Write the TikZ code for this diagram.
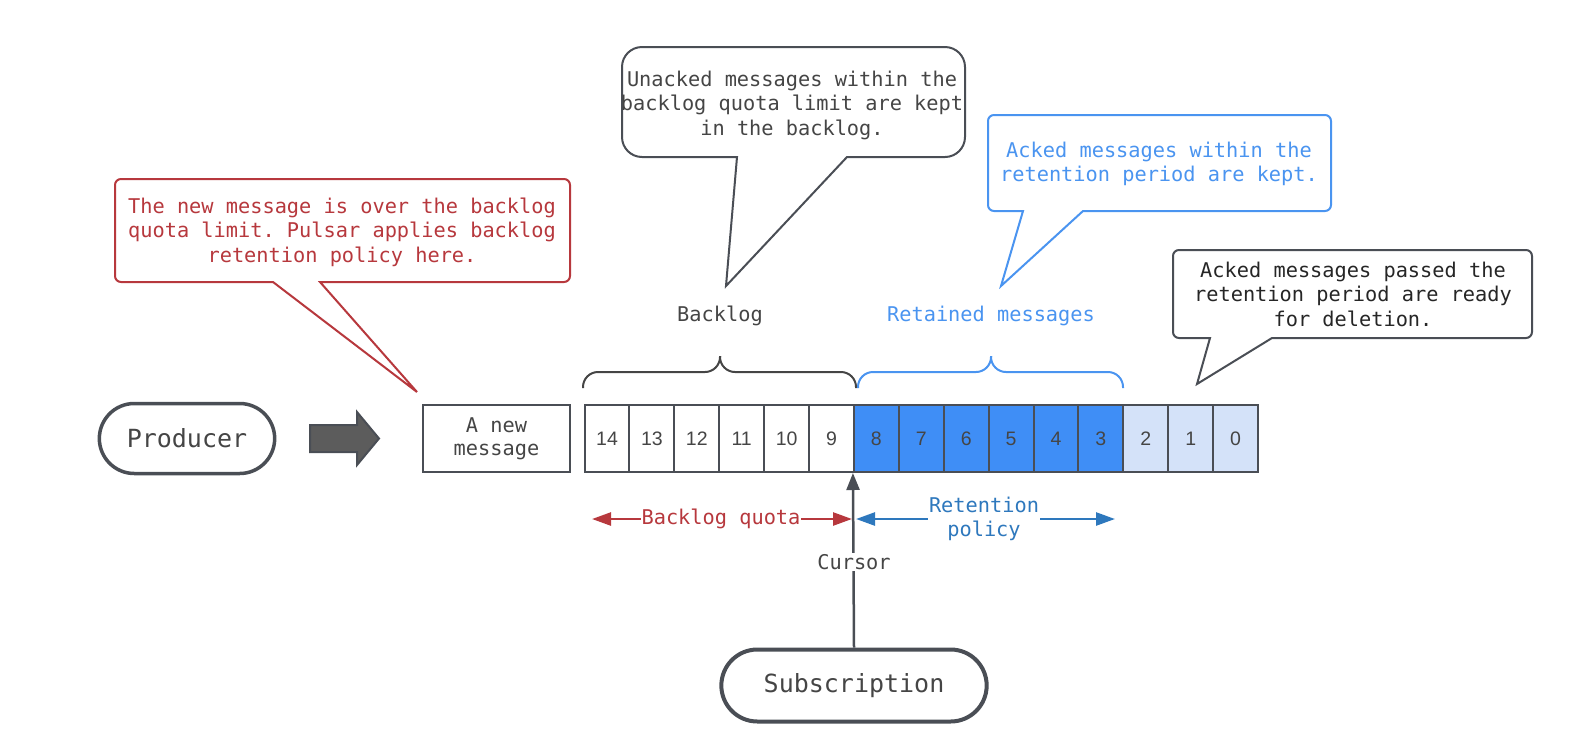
\documentclass[tikz,border=0pt]{standalone}
\usepackage{fontspec}
\setmonofont{DejaVu Sans Mono}
\setsansfont{Liberation Sans}
\usetikzlibrary{arrows.meta,shapes.misc}

\definecolor{inkgray}{HTML}{4A4E55}
\definecolor{txtgray}{HTML}{454545}
\definecolor{cellblue}{HTML}{3F8EF6}
\definecolor{celllight}{HTML}{D4E2F9}
\definecolor{callred}{HTML}{B7383D}
\definecolor{callblue}{HTML}{4A94F0}
\definecolor{arrowblue}{HTML}{2E78BD}
\definecolor{blockgray}{HTML}{5C5C5C}

\tikzset{
  every node/.style={font=\ttfamily\fontsize{20.3}{24.5}\selectfont, text=txtgray},
  actor/.style={rounded rectangle, draw=inkgray, line width=3.5, minimum height=70,
    font=\ttfamily\fontsize{25}{30}\selectfont},
  cell/.style={draw=inkgray, line width=2, minimum width=44.9, minimum height=67,
    inner sep=0, font=\sffamily\fontsize{19.5}{22}\selectfont, text=txtgray},
  balloon/.style={fill=white, line width=2},
  curly/.style={line width=2, rounded corners=15},
  span/.style={line width=2.5, {Triangle[length=19,width=13]}-{Triangle[length=19,width=13]}},
  spanlabel/.style={fill=white, inner sep=1, align=center},
}

\begin{document}
\begin{tikzpicture}[x=1pt,y=-1pt]
\useasboundingbox (0,0) rectangle (1580,748);

% producer side
\node[actor, minimum width=182] (prod) at (187,438.5) {Producer};
\draw[fill=blockgray, draw=inkgray, line width=2] (310,425) -- (357,425) -- (357,412)
  -- (379,438.5) -- (357,465) -- (357,452) -- (310,452) -- cycle;
\node[draw=inkgray, line width=2, minimum width=147, minimum height=67, align=center,
  font=\ttfamily\fontsize{20.3}{23}\selectfont] (newmsg) at (496.5,438.5) {A new\\message};

% the topic ledger
\foreach \n in {14,13,...,9}
  \node[cell] (c\n) at ({607+(14-\n)*44.9},438.5) {\n};
\foreach \n in {8,7,...,3}
  \node[cell, fill=cellblue] (c\n) at ({607+(14-\n)*44.9},438.5) {\n};
\foreach \n in {2,1,0}
  \node[cell, fill=celllight] (c\n) at ({607+(14-\n)*44.9},438.5) {\n};

% braces and their labels
\draw[curly, draw=txtgray] (583,388) |- (720,372) -- (720,356);
\draw[curly, draw=txtgray] (856,388) |- (720,372) -- (720,356);
\draw[curly, draw=callblue] (858,388) |- (991,372) -- (991,356);
\draw[curly, draw=callblue] (1123,388) |- (991,372) -- (991,356);
\node (backlog) at (720,316) {Backlog};
\node[text=callblue] (retained) at (991,316) {Retained messages};

% subscription and cursor
\node[actor, minimum width=272, minimum height=72, line width=4] (sub) at (854,685.5) {Subscription};
\draw[draw=inkgray, line width=2.5, -{Triangle[length=17,width=13]}] (sub.north) -- (c8.south west);
\node[fill=white, inner sep=1] (cursor) at (854,562) {Cursor};

% quota and retention ranges
\coordinate (quotaL) at (592,519);
\coordinate (quotaR) at (852,519);
\coordinate (keepL) at (856,519);
\coordinate (keepR) at (1115,519);
\draw[span, draw=callred, fill=callred] (quotaL) -- (quotaR);
\draw[span, draw=arrowblue, fill=arrowblue] (keepL) -- (keepR);
\node[spanlabel, text=callred] (quota) at (721,519) {Backlog quota};
\node[spanlabel, text=arrowblue] (policy) at (984,519) {Retention\\policy};

% callouts
\draw[balloon, draw=callred] (273,282) -- (417,392) -- (320,282) [rounded corners=6]
  -- (570,282) -- (570,179) -- (115,179) -- (115,282) [sharp corners] -- cycle;
\node[text=callred, align=center] (overnote) at (342,232)
  {The new message is over the backlog\\quota limit. Pulsar applies backlog\\retention policy here.};

\draw[balloon, draw=inkgray] (737,157) -- (726,286) -- (847,157) [rounded corners=20]
  -- (965,157) -- (965,47) -- (622,47) -- (622,157) [sharp corners] -- cycle;
\node[align=center] (unackednote) at (792,105)
  {Unacked messages within the\\backlog quota limit are kept\\in the backlog.};

\draw[balloon, draw=callblue] (1023,211) -- (1001,286) -- (1083,211) [rounded corners=6]
  -- (1331,211) -- (1331,115) -- (988,115) -- (988,211) [sharp corners] -- cycle;
\node[text=callblue, align=center] (keptnote) at (1159,164)
  {Acked messages within the\\retention period are kept.};

\draw[balloon, draw=inkgray] (1210,338) -- (1197,384) -- (1272,338) [rounded corners=6]
  -- (1532,338) -- (1532,250) -- (1173,250) -- (1173,338) [sharp corners] -- cycle;
\node[text=black!85, align=center] (deletenote) at (1353,294)
  {Acked messages passed the\\retention period are ready\\for deletion.};
\end{tikzpicture}
\end{document}
